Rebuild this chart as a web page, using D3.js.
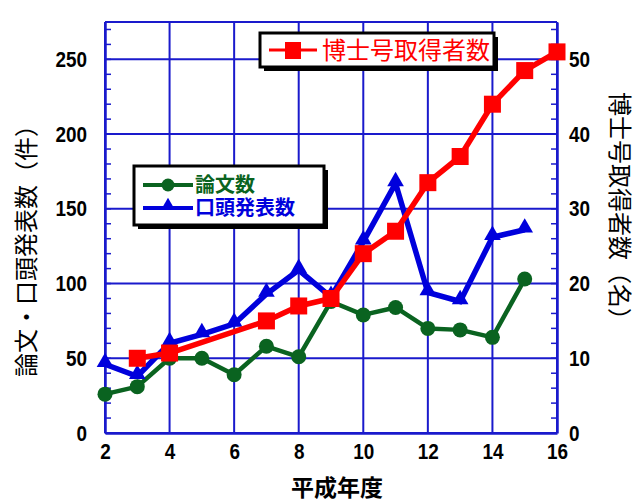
<!DOCTYPE html>
<html>
<head>
<meta charset="utf-8">
<script src="https://cdn.jsdelivr.net/npm/d3@7"></script>
<style>
  html, body { margin: 0; padding: 0; background: #fff; }
  svg { display: block; }
  .tick-num { font-family: "Liberation Sans", Arial, sans-serif; font-weight: bold; font-size: 22px; fill: #000; }
  .jp { font-family: "Noto Sans CJK JP", sans-serif; }
</style>
</head>
<body>
<svg id="chart" width="638" height="502"></svg>
<script>
// 年度 (平成)
const yearsPapers = [2, 3, 4, 5, 6, 7, 8, 9, 10, 11, 12, 13, 14, 15];
const papers      = [26, 31, 50, 50, 39, 58, 51, 88, 79, 84, 70, 69, 64, 103];
const talks       = [46, 38, 60, 66, 73, 93, 109, 91, 128, 167, 94, 88, 131, 136];

const yearsPhD = [3, 4, 7, 8, 9, 10, 11, 12, 13, 14, 15, 16];
const phd      = [10, 10.7, 15, 17, 18, 24, 27, 33.5, 37, 44, 48.5, 51];

const xTicks      = [2, 4, 6, 8, 10, 12, 14, 16];
const leftTicks   = [0, 50, 100, 150, 200, 250];
const rightTicks  = [0, 10, 20, 30, 40, 50];

const seriesNames = { papers: "論文数", talks: "口頭発表数", phd: "博士号取得者数" };
const axisTitles  = { left: "論文・口頭発表数（件）", right: "博士号取得者数（名）", bottom: "平成年度" };

const colors = { papers: "#0a6320", talks: "#0000dc", phd: "#ff0000", grid: "#1a1acc" };

const svg = d3.select("#chart");
const plot = { left: 105, right: 557, top: 22, bottom: 433 };

const x  = d3.scaleLinear().domain([2, 16]).range([plot.left, plot.right]);
const yL = d3.scaleLinear().domain([0, 275]).range([plot.bottom, plot.top]);
const yR = d3.scaleLinear().domain([0, 55]).range([plot.bottom, plot.top]);

// grid lines
const grid = svg.append("g").attr("stroke", colors.grid).attr("stroke-width", 2);
grid.selectAll(".vg").data(xTicks).join("line")
  .attr("x1", d => x(d)).attr("x2", d => x(d))
  .attr("y1", plot.top).attr("y2", plot.bottom);
grid.selectAll(".hg").data(leftTicks.concat([275])).join("line")
  .attr("x1", plot.left).attr("x2", plot.right)
  .attr("y1", d => yL(d)).attr("y2", d => yL(d));

// minor inward ticks
const minorL = d3.range(0, 276, 10);
svg.append("g").attr("stroke", colors.grid).attr("stroke-width", 1.5)
  .selectAll("line").data(minorL).join("line")
  .attr("x1", plot.left).attr("x2", plot.left + 6)
  .attr("y1", d => yL(d)).attr("y2", d => yL(d));
const minorR = d3.range(0, 55.1, 2);
svg.append("g").attr("stroke", colors.grid).attr("stroke-width", 1.5)
  .selectAll("line").data(minorR).join("line")
  .attr("x1", plot.right - 6).attr("x2", plot.right)
  .attr("y1", d => yR(d)).attr("y2", d => yR(d));

// axes; tick numbers are squeezed horizontally for a narrow bold look
const squeeze = 0.86;
const axL = d3.axisLeft(yL).tickValues(leftTicks).tickSize(0);
const axR = d3.axisRight(yR).tickValues(rightTicks).tickSize(0);
const axB = d3.axisBottom(x).tickValues(xTicks).tickSize(0).tickPadding(10);

function styleAxis(g) {
  g.select(".domain").attr("stroke", colors.grid).attr("stroke-width", 2.5);
  g.selectAll("text").attr("class", "tick-num");
}
svg.append("g").attr("transform", `translate(${plot.left},0)`).call(axL).call(styleAxis)
  .selectAll(".tick text").attr("x", -18 / squeeze).attr("transform", `scale(${squeeze},1)`);
svg.append("g").attr("transform", `translate(${plot.right},0)`).call(axR).call(styleAxis)
  .selectAll(".tick text").attr("x", 12 / squeeze).attr("transform", `scale(${squeeze},1)`);
svg.append("g").attr("transform", `translate(0,${plot.bottom})`).call(axB).call(styleAxis)
  .selectAll(".tick text").attr("transform", `scale(${squeeze},1)`);

// series lines
const lineL = d3.line().x(d => x(d[0])).y(d => yL(d[1]));
const lineR = d3.line().x(d => x(d[0])).y(d => yR(d[1]));

const papersPts = yearsPapers.map((yr, i) => [yr, papers[i]]);
const talksPts  = yearsPapers.map((yr, i) => [yr, talks[i]]);
const phdPts    = yearsPhD.map((yr, i) => [yr, phd[i]]);

// 論文数
svg.append("path").datum(papersPts).attr("d", lineL)
  .attr("fill", "none").attr("stroke", colors.papers).attr("stroke-width", 4.5).attr("stroke-linejoin", "round");
svg.append("g").selectAll("circle").data(papersPts).join("circle")
  .attr("cx", d => x(d[0])).attr("cy", d => yL(d[1])).attr("r", 7.5).attr("fill", colors.papers);

// 口頭発表数
const tri = d3.symbol().type(d3.symbolTriangle).size(120);
svg.append("path").datum(talksPts).attr("d", lineL)
  .attr("fill", "none").attr("stroke", colors.talks).attr("stroke-width", 5.5).attr("stroke-linejoin", "miter");
svg.append("g").selectAll("path").data(talksPts).join("path")
  .attr("d", tri).attr("transform", d => `translate(${x(d[0])},${yL(d[1]) - 2})`).attr("fill", colors.talks);

// 博士号取得者数
svg.append("path").datum(phdPts).attr("d", lineR)
  .attr("fill", "none").attr("stroke", colors.phd).attr("stroke-width", 5.5).attr("stroke-linejoin", "round");
svg.append("g").selectAll("rect").data(phdPts).join("rect")
  .attr("x", d => x(d[0]) - 8.5).attr("y", d => yR(d[1]) - 8.5)
  .attr("width", 17).attr("height", 17).attr("fill", colors.phd);

// axis titles
svg.append("text").attr("class", "jp")
  .attr("transform", `translate(35,245) rotate(-90)`)
  .attr("text-anchor", "middle").attr("font-size", 24).attr("fill", "#000")
  .text(axisTitles.left);
svg.append("text").attr("class", "jp")
  .attr("transform", `translate(611,212) rotate(90)`)
  .attr("text-anchor", "middle").attr("font-size", 24).attr("fill", "#000")
  .text(axisTitles.right);
svg.append("text").attr("class", "jp")
  .attr("x", 337).attr("y", 496)
  .attr("text-anchor", "middle").attr("font-size", 23).attr("font-weight", "bold").attr("fill", "#000")
  .text(axisTitles.bottom);

// legend boxes with drop shadow
function legendBox(x0, y0, w, h) {
  svg.append("rect").attr("x", x0 + 4).attr("y", y0 + 4).attr("width", w).attr("height", h).attr("fill", "#000");
  svg.append("rect").attr("x", x0).attr("y", y0).attr("width", w).attr("height", h)
    .attr("fill", "#fff").attr("stroke", "#000").attr("stroke-width", 3);
}

// 博士号取得者数 legend
legendBox(260, 33, 234, 34);
svg.append("line").attr("x1", 269).attr("x2", 317).attr("y1", 50).attr("y2", 50)
  .attr("stroke", colors.phd).attr("stroke-width", 3);
svg.append("rect").attr("x", 285).attr("y", 42).attr("width", 16).attr("height", 17).attr("fill", colors.phd);
svg.append("text").attr("class", "jp").attr("x", 322).attr("y", 59)
  .attr("font-size", 24).attr("fill", colors.phd).text(seriesNames.phd);

// 論文数 / 口頭発表数 legend
legendBox(134, 166, 190, 59);
svg.append("line").attr("x1", 143).attr("x2", 193).attr("y1", 185).attr("y2", 185)
  .attr("stroke", colors.papers).attr("stroke-width", 4);
svg.append("circle").attr("cx", 168).attr("cy", 185).attr("r", 6.5).attr("fill", colors.papers);
svg.append("text").attr("class", "jp").attr("x", 195).attr("y", 192)
  .attr("font-size", 20).attr("font-weight", "bold").attr("fill", colors.papers).text(seriesNames.papers);

svg.append("line").attr("x1", 143).attr("x2", 193).attr("y1", 208).attr("y2", 208)
  .attr("stroke", colors.talks).attr("stroke-width", 4);
svg.append("path").attr("d", d3.symbol().type(d3.symbolTriangle).size(70))
  .attr("transform", "translate(168,205)").attr("fill", colors.talks);
svg.append("text").attr("class", "jp").attr("x", 195).attr("y", 215)
  .attr("font-size", 20).attr("font-weight", "bold").attr("fill", colors.talks).text(seriesNames.talks);
</script>
</body>
</html>
